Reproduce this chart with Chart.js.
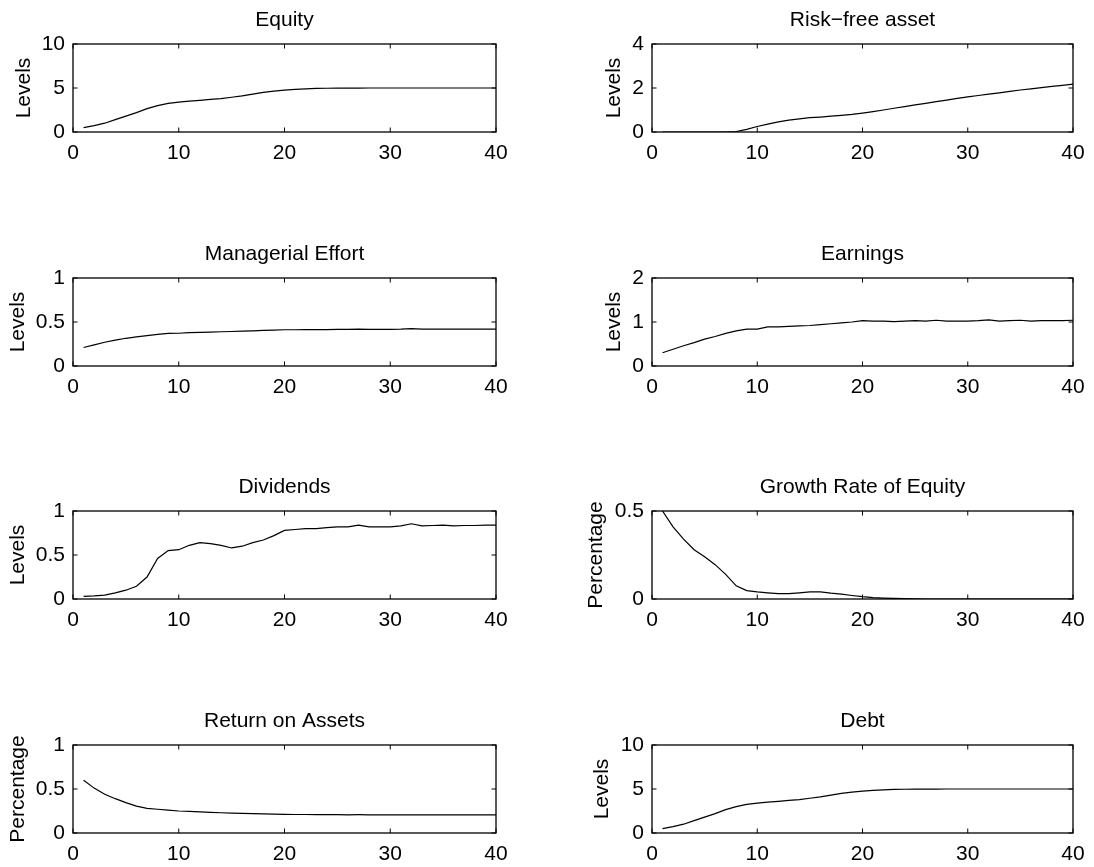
<!DOCTYPE html>
<html>
<head>
<meta charset="utf-8">
<script src="https://cdn.jsdelivr.net/npm/chart.js@4.4.0/dist/chart.umd.min.js"></script>
<style>
  body { margin: 0; background: #fff; overflow: hidden; }
  #wrap { position: relative; width: 1094px; height: 867px; }
  .cell { position: absolute; height: 234px; }
</style>
</head>
<body>
<div id="wrap"></div>
<script>
// periods 1..40
const periods = [1,2,3,4,5,6,7,8,9,10,11,12,13,14,15,16,17,18,19,20,
                 21,22,23,24,25,26,27,28,29,30,31,32,33,34,35,36,37,38,39,40];
const xTicks = [0, 10, 20, 30, 40];

const equity = [0.49,0.72,1.0,1.4,1.8,2.2,2.65,3.0,3.25,3.4,3.5,3.6,3.7,3.8,3.95,4.1,4.3,4.5,4.65,4.75,
                4.85,4.9,4.95,4.97,4.98,4.99,4.99,5.0,5.0,5.0,5.0,5.0,5.0,5.0,5.0,5.0,5.0,5.0,5.0,5.0];
const riskFree = [0,0,0,0,0,0,0,0.02,0.12,0.25,0.36,0.46,0.54,0.6,0.65,0.68,0.72,0.76,0.8,0.86,
                  0.93,1.0,1.08,1.15,1.23,1.3,1.38,1.45,1.53,1.6,1.66,1.72,1.78,1.85,1.91,1.96,2.02,2.07,2.12,2.18];
const effort = [0.21,0.24,0.27,0.295,0.315,0.33,0.345,0.36,0.37,0.372,0.38,0.383,0.386,0.389,0.392,0.396,0.4,0.404,0.408,0.412,
                0.412,0.413,0.414,0.414,0.416,0.416,0.42,0.416,0.417,0.417,0.418,0.425,0.419,0.42,0.42,0.42,0.42,0.42,0.42,0.42];
const earnings = [0.3,0.38,0.46,0.53,0.61,0.67,0.74,0.8,0.84,0.84,0.89,0.89,0.9,0.91,0.92,0.94,0.96,0.98,1.0,1.03,
                  1.02,1.02,1.01,1.02,1.03,1.02,1.04,1.02,1.02,1.02,1.03,1.05,1.02,1.03,1.04,1.02,1.03,1.03,1.03,1.04];
const dividends = [0.03,0.035,0.045,0.07,0.1,0.145,0.25,0.46,0.55,0.56,0.61,0.64,0.63,0.61,0.58,0.6,0.64,0.67,0.72,0.78,
                   0.79,0.8,0.8,0.81,0.82,0.82,0.84,0.82,0.82,0.82,0.83,0.855,0.83,0.835,0.84,0.83,0.835,0.835,0.84,0.84];
const growth = [0.5,0.41,0.34,0.28,0.24,0.195,0.14,0.075,0.048,0.04,0.035,0.03,0.03,0.035,0.04,0.04,0.033,0.028,0.02,0.013,
                0.008,0.005,0.003,0.002,0.001,0,0,0,0,0,0,0,0,0,0,0,0,0,0,0];
const roa = [0.6,0.51,0.44,0.39,0.345,0.305,0.28,0.27,0.26,0.25,0.245,0.24,0.235,0.23,0.225,0.222,0.22,0.218,0.215,0.212,
             0.21,0.21,0.208,0.208,0.208,0.207,0.208,0.207,0.207,0.206,0.206,0.207,0.206,0.206,0.206,0.205,0.205,0.205,0.205,0.205];
const debt = [0.49,0.72,1.0,1.4,1.8,2.2,2.65,3.0,3.25,3.4,3.5,3.6,3.7,3.8,3.95,4.1,4.3,4.5,4.65,4.75,
              4.85,4.9,4.95,4.97,4.98,4.99,4.99,5.0,5.0,5.0,5.0,5.0,5.0,5.0,5.0,5.0,5.0,5.0,5.0,5.0];

const titles = ['Equity', 'Risk\u2212free asset', 'Managerial Effort', 'Earnings',
                'Dividends', 'Growth Rate of Equity', 'Return on Assets', 'Debt'];
const yLabels = ['Levels', 'Levels', 'Levels', 'Levels', 'Levels', 'Percentage', 'Percentage', 'Levels'];
const yTicks = [[0, 5, 10], [0, 2, 4], [0, 0.5, 1], [0, 1, 2], [0, 0.5, 1], [0, 0.5], [0, 0.5, 1], [0, 5, 10]];
const series = [equity, riskFree, effort, earnings, dividends, growth, roa, debt];

const FONT = "'Liberation Sans', Arial, Helvetica, sans-serif";
const rowTops = [0, 234, 467, 701];
// distance of the y label from the canvas edge, per panel
const labelPad = [12, 23, 6, 23, 6, 5, 6, 11];

// matlab style box with inward ticks
const boxFrame = {
  id: 'boxFrame',
  afterDraw(chart) {
    const { ctx, chartArea: a, scales: { x, y } } = chart;
    const len = 4.5;
    ctx.save();
    ctx.strokeStyle = '#000';
    ctx.lineWidth = 1;
    ctx.beginPath();
    x.ticks.forEach(t => {
      const px = x.getPixelForValue(t.value);
      ctx.moveTo(px, a.bottom); ctx.lineTo(px, a.bottom - len);
      ctx.moveTo(px, a.top); ctx.lineTo(px, a.top + len);
    });
    y.ticks.forEach(t => {
      const py = y.getPixelForValue(t.value);
      ctx.moveTo(a.left, py); ctx.lineTo(a.left + len, py);
      ctx.moveTo(a.right, py); ctx.lineTo(a.right - len, py);
    });
    ctx.stroke();
    ctx.lineWidth = 1.3;
    ctx.strokeRect(a.left, a.top, a.right - a.left, a.bottom - a.top);
    ctx.restore();
  }
};

const wrap = document.getElementById('wrap');

series.forEach((vals, i) => {
  const col = i % 2;
  const row = Math.floor(i / 2);
  const cell = document.createElement('div');
  cell.className = 'cell';
  cell.style.left = (col === 0 ? 0 : 579) + 'px';
  cell.style.top = rowTops[row] + 'px';
  cell.style.width = (col === 0 ? 547 : 515) + 'px';
  const cv = document.createElement('canvas');
  cell.appendChild(cv);
  wrap.appendChild(cell);

  const ticksY = yTicks[i];
  new Chart(cv, {
    type: 'line',
    data: {
      datasets: [{
        data: periods.map((p, k) => ({ x: p, y: vals[k] })),
        borderColor: '#000',
        borderWidth: 1.2,
        pointRadius: 0,
        tension: 0,
        fill: false
      }]
    },
    options: {
      responsive: true,
      maintainAspectRatio: false,
      animation: false,
      layout: { padding: { left: 0, right: col === 0 ? 51 : 21, top: 0, bottom: 0 } },
      plugins: {
        legend: { display: false },
        tooltip: { enabled: false },
        title: {
          display: true,
          text: titles[i],
          color: '#000',
          fullSize: false,
          font: { family: FONT, size: 21, weight: 'normal' },
          padding: { top: 8, bottom: 10.8 }
        }
      },
      scales: {
        x: {
          type: 'linear',
          min: 0,
          max: 40,
          afterBuildTicks: s => { s.ticks = xTicks.map(v => ({ value: v })); },
          afterFit: s => { s.height = 102; },
          grid: { display: false, drawTicks: false },
          border: { display: false },
          ticks: {
            color: '#000', padding: 9, maxRotation: 0, autoSkip: false,
            font: { family: FONT, size: 21 },
            callback: v => String(v)
          }
        },
        y: {
          type: 'linear',
          min: ticksY[0],
          max: ticksY[ticksY.length - 1],
          afterBuildTicks: s => { s.ticks = ticksY.map(v => ({ value: v })); },
          afterFit: s => { s.width = 73; },
          grid: { display: false, drawTicks: false },
          border: { display: false },
          ticks: {
            color: '#000', padding: 8, autoSkip: false,
            font: { family: FONT, size: 21 },
            callback: v => String(v)
          },
          title: {
            display: true,
            text: yLabels[i],
            color: '#000',
            font: { family: FONT, size: 21 },
            padding: { top: labelPad[i], bottom: 0 }
          }
        }
      }
    },
    plugins: [boxFrame]
  });
});
</script>
</body>
</html>
